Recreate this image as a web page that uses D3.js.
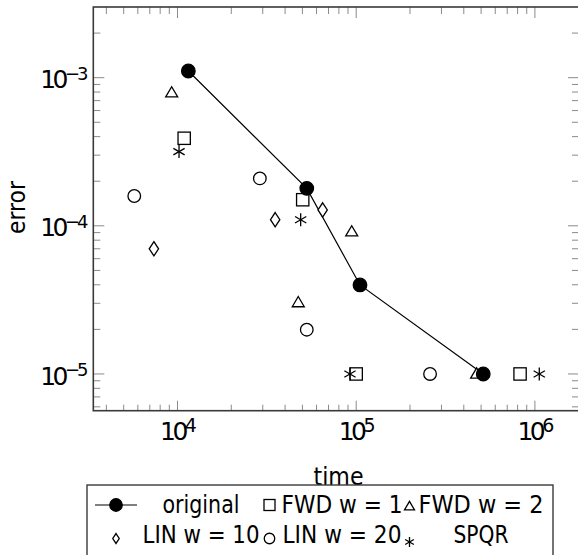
<!DOCTYPE html>
<html>
<head>
<meta charset="utf-8">
<script src="https://cdn.jsdelivr.net/npm/d3@7"></script>
<style>
  body { margin: 0; background: #fff; }
  text { font-family: "DejaVu Sans", sans-serif; fill: #000; }
</style>
</head>
<body>
<svg id="chart" width="578" height="555"></svg>
<script>
// values
var origT  = [11500, 52900, 105000, 514000];
var origE  = [1.11e-3, 1.79e-4, 3.99e-5, 1.0e-5];
var fwd1T  = [10900, 50200, 100000, 826000];
var fwd1E  = [3.9e-4, 1.5e-4, 1.0e-5, 1.0e-5];
var fwd2T  = [9280, 94400, 47400, 472000];
var fwd2E  = [7.9e-4, 9.1e-5, 3.03e-5, 1.0e-5];
var lin10T = [7380, 35200, 64900];
var lin10E = [7.0e-5, 1.1e-4, 1.28e-4];
var lin20T = [5730, 28900, 52900, 259000];
var lin20E = [1.59e-4, 2.09e-4, 1.99e-5, 1.0e-5];
var spqrT  = [10200, 48900, 92300, 1058000];
var spqrE  = [3.17e-4, 1.1e-4, 1.0e-5, 1.0e-5];

var xMajor = [1e4, 1e5, 1e6],  xExp = ["4", "5", "6"];
var yMajor = [1e-3, 1e-4, 1e-5], yExp = ["\u22123", "\u22124", "\u22125"];

var legendLabels = [["original", "FWD w = 1", "FWD w = 2"],
                    ["LIN w = 10", "LIN w = 20", "SPQR"]];
var legendShapes = [["dotline", "square", "triangle"],
                    ["diamond", "circle", "star"]];

var svg = d3.select("#chart");

var pl = 93.3, pr = 579, pt = 7, pb = 410.7;

var x = d3.scaleLog().domain([3380, 1.765e6]).range([pl, pr]);
var y = d3.scaleLog().domain([5.65e-6, 3.0e-3]).range([pb, pt]);

// ticks (inward, on all four sides)
var tickCol = "#8a8a8a";
var ticks = svg.append("g").attr("stroke", tickCol).attr("stroke-width", 1);

function isMajor(list, t) {
  return list.some(function(m) { return Math.abs(m - t) / m < 1e-6; });
}

x.ticks().forEach(function(t) {
  var len = isMajor(xMajor, t) ? 10 : 6;
  var px = x(t);
  if (px < pl + 1 || px > pr - 1) return;
  ticks.append("line").attr("x1", px).attr("x2", px).attr("y1", pb).attr("y2", pb - len);
  ticks.append("line").attr("x1", px).attr("x2", px).attr("y1", pt).attr("y2", pt + len + 1);
});
y.ticks().forEach(function(t) {
  var len = isMajor(yMajor, t) ? 11 : 7;
  var py = y(t);
  if (py < pt + 1 || py > pb - 1) return;
  ticks.append("line").attr("y1", py).attr("y2", py).attr("x1", pl).attr("x2", pl + len);
  ticks.append("line").attr("y1", py).attr("y2", py).attr("x1", pr).attr("x2", pr - len);
});

// frame
svg.append("rect")
  .attr("x", pl).attr("y", pt)
  .attr("width", pr - pl).attr("height", pb - pt)
  .attr("fill", "none").attr("stroke", "#3a3a3a").attr("stroke-width", 1.6);

// tick labels: 10 with superscript exponent, one text each
xMajor.forEach(function(t, i) {
  var lab = svg.append("text").attr("x", x(t) - 17.5).attr("y", 440);
  lab.append("tspan").attr("font-size", 25).attr("letter-spacing", -3.5).text("10");
  lab.append("tspan").attr("font-size", 19).attr("dy", -8).text(xExp[i]);
});
yMajor.forEach(function(t, i) {
  var lab = svg.append("text").attr("x", 40.2).attr("y", y(t) + 10.6);
  lab.append("tspan").attr("font-size", 25).attr("letter-spacing", -3.5).text("10");
  lab.append("tspan").attr("font-size", 18).attr("dy", -8.1).attr("letter-spacing", -3).text(yExp[i]);
});

// axis titles
svg.append("text").attr("x", 338.5).attr("y", 485)
  .attr("text-anchor", "middle").attr("font-size", 25)
  .attr("textLength", 50).attr("lengthAdjust", "spacingAndGlyphs").text("time");
svg.append("text")
  .attr("transform", "translate(25,207.5) rotate(-90)")
  .attr("text-anchor", "middle").attr("font-size", 25)
  .attr("textLength", 53).attr("lengthAdjust", "spacingAndGlyphs").text("error");

// marker shapes
function drawShape(g, type, cx, cy, s) {
  var m = g.append("g").attr("transform", "translate(" + cx + "," + cy + ")")
    .attr("stroke", "#000").attr("stroke-width", 1.3).attr("fill", "#fff");
  if (type === "dot") {
    m.append("circle").attr("r", s * 0.52).attr("fill", "#000");
  } else if (type === "circle") {
    m.append("circle").attr("r", s * 0.5);
  } else if (type === "square") {
    m.append("rect").attr("x", -s / 2).attr("y", -s / 2).attr("width", s).attr("height", s);
  } else if (type === "triangle") {
    var h = s * 0.85;
    m.append("path").attr("d", "M0," + (-h * 0.6) + "L" + (s / 2) + "," + (h * 0.4) + "L" + (-s / 2) + "," + (h * 0.4) + "Z");
  } else if (type === "diamond") {
    var w = s * 0.36, hh = s * 0.55;
    m.append("path").attr("d", "M0," + (-hh) + "L" + w + ",0L0," + hh + "L" + (-w) + ",0Z");
  } else if (type === "star") {
    var r = s / 2;
    [90, 30, -30].forEach(function(a) {
      var rad = a * Math.PI / 180;
      m.append("line")
        .attr("x1", -r * Math.cos(rad)).attr("y1", -r * Math.sin(rad))
        .attr("x2", r * Math.cos(rad)).attr("y2", r * Math.sin(rad));
    });
  }
}

// original line
var line = d3.line().x(function(d) { return x(d[0]); }).y(function(d) { return y(d[1]); });
svg.append("path")
  .datum(d3.zip(origT, origE))
  .attr("d", line).attr("fill", "none").attr("stroke", "#000").attr("stroke-width", 1.2);

var pts = svg.append("g");
var series = [
  [lin20T, lin20E, "circle", 12.6],
  [lin10T, lin10E, "diamond", 13],
  [fwd2T, fwd2E, "triangle", 12],
  [fwd1T, fwd1E, "square", 12.3],
  [spqrT, spqrE, "star", 13],
  [origT, origE, "dot", 13]
];
series.forEach(function(s) {
  s[0].forEach(function(t, i) {
    drawShape(pts, s[2], x(t), y(s[1][i]), s[3]);
  });
});

// legend
var lg = svg.append("g");
lg.append("rect").attr("x", 87).attr("y", 485).attr("width", 466).attr("height", 90)
  .attr("fill", "#fff").attr("stroke", "#3a3a3a").attr("stroke-width", 1.4);

var symX = [116, 269.5, 409.5], txtX = [201, 342, 481];
var rowY = [512.7, 543], symY = [505, 538.5];
var txtLen = [[77, 121, 125], [117, 119, 55]];
legendLabels.forEach(function(row, r) {
  row.forEach(function(lab, c) {
    var shp = legendShapes[r][c];
    if (shp === "dotline") {
      lg.append("line").attr("x1", 95).attr("x2", 137).attr("y1", symY[r]).attr("y2", symY[r])
        .attr("stroke", "#000").attr("stroke-width", 1.2);
      drawShape(lg, "dot", symX[c], symY[r], 12);
    } else {
      var sz = { square: 11, triangle: 10, diamond: 9, circle: 10.5, star: 10 }[shp];
      drawShape(lg, shp, symX[c], symY[r] + (shp === "star" ? 3.5 : (shp === "triangle" ? 1.5 : 0)), sz);
    }
    lg.append("text").attr("x", txtX[c]).attr("y", rowY[r])
      .attr("text-anchor", "middle").attr("font-size", 25)
      .attr("textLength", txtLen[r][c]).attr("lengthAdjust", "spacingAndGlyphs")
      .text(lab);
  });
});
</script>
</body>
</html>
